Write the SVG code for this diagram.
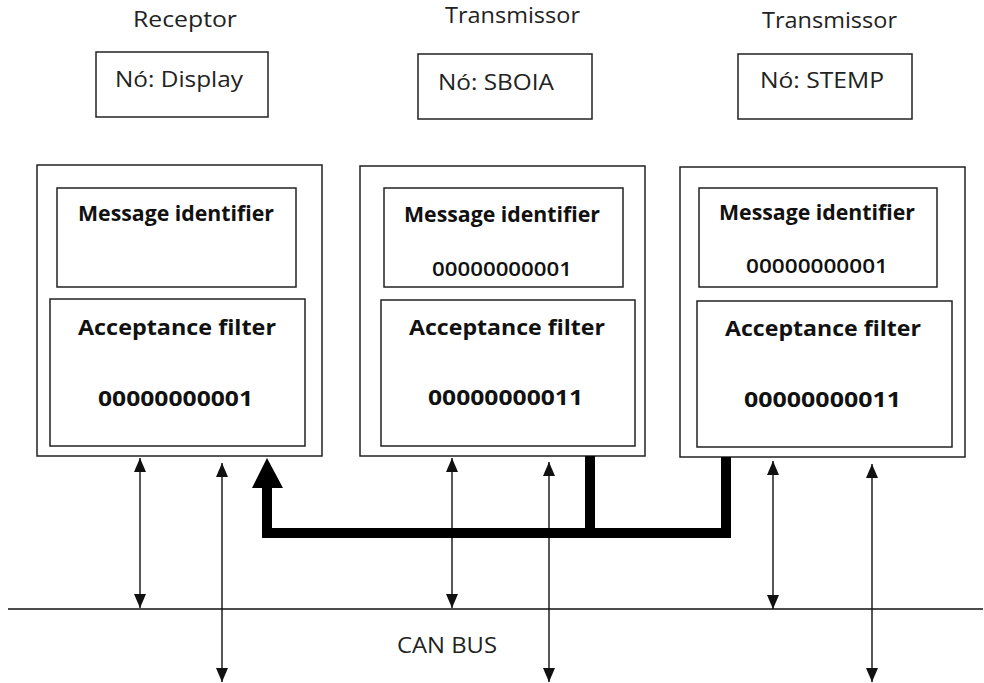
<svg xmlns="http://www.w3.org/2000/svg" width="984" height="683" viewBox="0 0 984 683">
<defs>
<style>
.box{fill:#fff;stroke:#222;stroke-width:1.5}
.t{font-family:"Open Sans","Liberation Sans",sans-serif;font-size:21px;fill:#222}
.b{font-family:"Open Sans","Liberation Sans",sans-serif;font-size:21px;font-weight:bold;fill:#111}
.sb{font-family:"Open Sans","Liberation Sans",sans-serif;font-size:19px;font-weight:600;fill:#111}
.ln{stroke:#111;stroke-width:1.4;fill:none}
.thin{stroke:#111;stroke-width:1.4;fill:none;marker-start:url(#ah);marker-end:url(#ah)}
.thick{stroke:#000;stroke-width:10;fill:none;stroke-linejoin:miter}
</style>
<marker id="ah" viewBox="0 0 14 12" refX="14" refY="6" markerWidth="14" markerHeight="12" markerUnits="userSpaceOnUse" orient="auto-start-reverse">
<path d="M0,0 L14,6 L0,12 z" fill="#111"/>
</marker>
</defs>
<rect width="984" height="683" fill="#fff"/>

<g id="label-receptor"><text class="t" x="133" y="27" textLength="104" lengthAdjust="spacingAndGlyphs">Receptor</text></g>
<g id="label-transmissor-1"><text class="t" x="445" y="23" textLength="135" lengthAdjust="spacingAndGlyphs">Transmissor</text></g>
<g id="label-transmissor-2"><text class="t" x="762" y="28" textLength="135" lengthAdjust="spacingAndGlyphs">Transmissor</text></g>

<g id="node-display-name">
<rect class="box" x="96" y="52" width="172" height="65"/>
<text class="t" x="115" y="87" textLength="128" lengthAdjust="spacingAndGlyphs">Nó: Display</text>
</g>
<g id="node-sboia-name">
<rect class="box" x="418" y="54" width="174" height="65"/>
<text class="t" x="438" y="90" textLength="116" lengthAdjust="spacingAndGlyphs">Nó: SBOIA</text>
</g>
<g id="node-stemp-name">
<rect class="box" x="738" y="54" width="174" height="65"/>
<text class="t" x="760" y="88" textLength="124" lengthAdjust="spacingAndGlyphs">Nó: STEMP</text>
</g>

<g id="node-display">
<rect class="box" x="37" y="165" width="285" height="291"/>
<rect class="box" x="57" y="188" width="239" height="99"/>
<text class="b" x="78" y="221" textLength="196" lengthAdjust="spacingAndGlyphs">Message identifier</text>
<rect class="box" x="50" y="299" width="255" height="147"/>
<text class="b" x="78" y="335" textLength="198" lengthAdjust="spacingAndGlyphs">Acceptance filter</text>
<text class="b" x="98" y="406" textLength="155" lengthAdjust="spacingAndGlyphs">00000000001</text>
</g>

<g id="node-sboia">
<rect class="box" x="360" y="166" width="285" height="290"/>
<rect class="box" x="384" y="188" width="239" height="99"/>
<text class="b" x="404" y="222" textLength="196" lengthAdjust="spacingAndGlyphs">Message identifier</text>
<text class="sb" x="432" y="276" textLength="140" lengthAdjust="spacingAndGlyphs">00000000001</text>
<rect class="box" x="381" y="300" width="254" height="146"/>
<text class="b" x="409" y="335" textLength="196" lengthAdjust="spacingAndGlyphs">Acceptance filter</text>
<text class="b" x="428" y="405" textLength="155" lengthAdjust="spacingAndGlyphs">00000000011</text>
</g>

<g id="node-stemp">
<rect class="box" x="680" y="167" width="285" height="290"/>
<rect class="box" x="699" y="188" width="238" height="99"/>
<text class="b" x="719" y="220" textLength="196" lengthAdjust="spacingAndGlyphs">Message identifier</text>
<text class="sb" x="746" y="273" textLength="142" lengthAdjust="spacingAndGlyphs">00000000001</text>
<rect class="box" x="697" y="301" width="255" height="146"/>
<text class="b" x="725" y="336" textLength="196" lengthAdjust="spacingAndGlyphs">Acceptance filter</text>
<text class="b" x="744" y="407" textLength="157" lengthAdjust="spacingAndGlyphs">00000000011</text>
</g>

<g id="can-bus">
<line class="ln" x1="8" y1="609" x2="983" y2="609"/>
<text class="t" x="397" y="653" textLength="100" lengthAdjust="spacingAndGlyphs">CAN BUS</text>
</g>

<g id="connectors">
<line class="thin" x1="140" y1="458" x2="140" y2="608"/>
<line class="thin" x1="222" y1="463" x2="222" y2="682"/>
<line class="thin" x1="452" y1="458" x2="452" y2="608"/>
<line class="thin" x1="549" y1="462" x2="549" y2="682"/>
<line class="thin" x1="773" y1="461" x2="773" y2="609"/>
<line class="thin" x1="872" y1="464" x2="872" y2="682"/>
<path class="thick" d="M726 457 V533 H267 V486"/>
<path class="thick" d="M590 456 V533"/>
<polygon points="267,458 252,488 283,488" fill="#000"/>
</g>
</svg>
